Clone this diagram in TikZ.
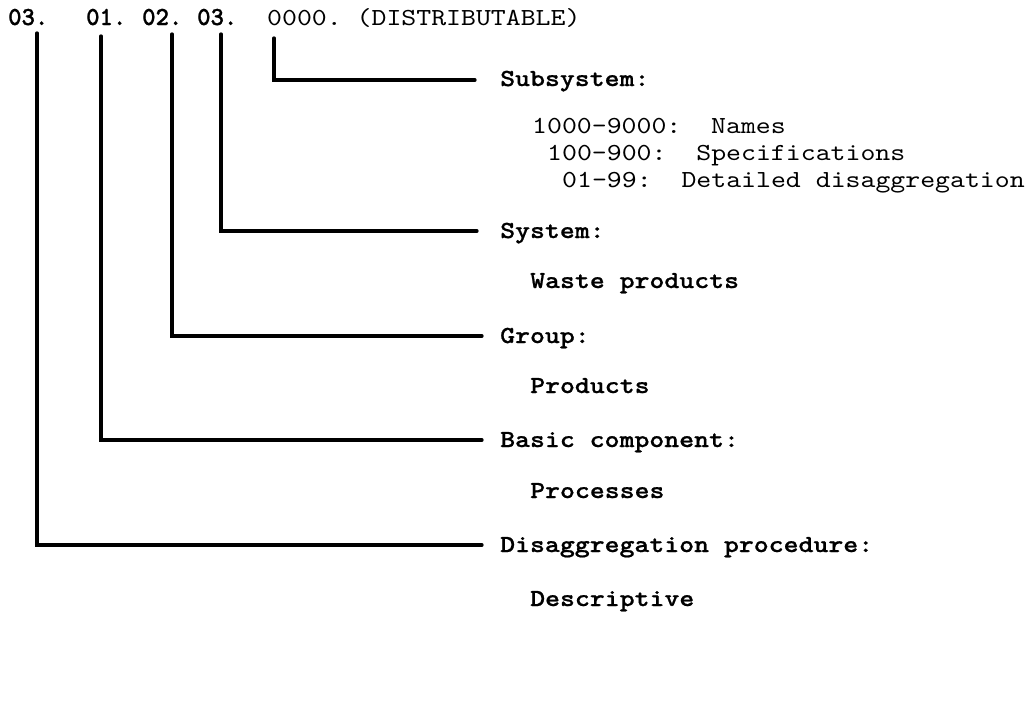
\documentclass[tikz,border=0pt]{standalone}
\usepackage{fontspec}
\newfontfamily\tw{lmmono10-regular.otf}[FakeStretch=1.16]
\newfontfamily\twb{lmmonolt10-bold.otf}[FakeStretch=1.16,FakeBold=0.8]
\newfontfamily\twh{lmmonolt10-bold.otf}[FakeStretch=0.98,FakeBold=1]
\tikzset{
  lab/.style={anchor=base west, inner sep=0pt, font=\twb\fontsize{24.5}{26}\selectfont},
  hd/.style={anchor=base west, inner sep=0pt, font=\twh\fontsize{26}{26}\selectfont},
  txt/.style={anchor=base west, inner sep=0pt, font=\tw\fontsize{24.5}{26}\selectfont},
  bar/.style={line width=3.3pt, line cap=round, line join=miter}
}
\begin{document}
\begin{tikzpicture}[x=1pt,y=-1pt]
\fill[white] (0,0) rectangle (1032,720);
\useasboundingbox (0,0) rectangle (1032,720);
% header
\node[hd] (h1) at (8,25) {03.};
\node[hd] (h2) at (86,25) {01.};
\node[hd] (h3) at (142,25) {02.};
\node[hd] (h4) at (197,25) {03.};
\node[txt] (h5) at (267,25) {0000.\ (DISTRIBUTABLE)};
% labels
\node[lab] (l5) at (500,86) {Subsystem:};
\node[txt] (s1) at (532,133) {1000-9000:\ \ Names};
\node[txt] (s2) at (547,160) {100-900:\ \ Specifications};
\node[txt] (s3) at (562,187) {01-99:\ \ Detailed disaggregation};
\node[lab] (l4) at (500,238) {System:};
\node[lab] (d4) at (530,288) {Waste products};
\node[lab] (l3) at (500,343) {Group:};
\node[lab] (d3) at (530,393) {Products};
\node[lab] (l2) at (500,447) {Basic component:};
\node[lab] (d2) at (530,498) {Processes};
\node[lab] (l1) at (500,552) {Disaggregation procedure:};
\node[lab] (d1) at (530,606) {Descriptive};
% connector coordinates
\coordinate (t1) at (37,33);  \coordinate (e1) at (482,545);
\coordinate (t2) at (101,36); \coordinate (e2) at (482,440);
\coordinate (t3) at (172,34); \coordinate (e3) at (482,336);
\coordinate (t4) at (221,34); \coordinate (e4) at (477,231);
\coordinate (t5) at (274,38); \coordinate (e5) at (475,80);
\draw[bar] (t1) |- (e1);
\draw[bar] (t2) |- (e2);
\draw[bar] (t3) |- (e3);
\draw[bar] (t4) |- (e4);
\draw[bar] (t5) |- (e5);
\end{tikzpicture}
\end{document}
